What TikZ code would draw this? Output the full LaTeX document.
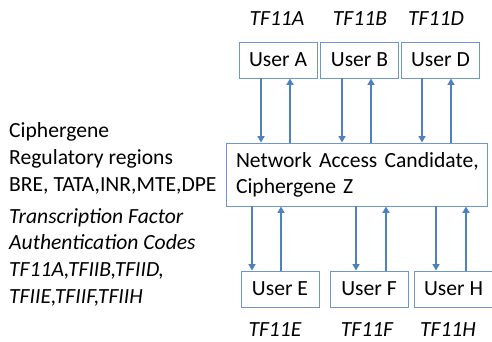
\documentclass[tikz,border=0pt]{standalone}
\usepackage{fontspec}
\setmainfont{Carlito}
\usetikzlibrary{arrows.meta}
\definecolor{arrowblue}{RGB}{79,129,189}
\definecolor{boxblue}{RGB}{110,150,205}
\begin{document}
\begin{tikzpicture}[x=1pt,y=-1pt,
  every node/.style={font=\fontsize{21.6}{26}\selectfont},
  userbox/.style={draw=boxblue,line width=0.9pt,minimum width=78pt,minimum height=36pt,inner sep=0pt},
  tflabel/.style={font=\fontsize{21.6}{26}\selectfont\itshape,inner sep=0pt},
  lefttext/.style={anchor=base west,inner sep=0pt},
  leftital/.style={anchor=base west,inner sep=0pt,font=\fontsize{21.6}{26}\selectfont\itshape},
  arr/.style={draw=arrowblue,line width=2.4pt,-{Triangle[width=7pt,length=6.5pt]}}]
\useasboundingbox (0,0) rectangle (492,342);

% top row of users
\node[userbox] (ua) at (278,60) {User A};
\node[userbox] (ub) at (359.5,60) {User B};
\node[userbox] (ud) at (440.5,60) {User D};
\node[tflabel] (la) at (277,19) {TF11A};
\node[tflabel] (lb) at (360,19) {TF11B};
\node[tflabel] (ld) at (436,19) {TF11D};

% central node
\node[draw=boxblue,line width=0.9pt,minimum width=261pt,minimum height=63pt,
      inner xsep=10pt,inner ysep=0pt,text width=241pt,align=left] (nac) at (356.5,174.5)
  {\mbox{Network Access Candidate,}\\\mbox{Ciphergene Z}};

% bottom row of users
\node[userbox] (ue) at (280,289) {User E};
\node[userbox] (uf) at (369,289) {User F};
\node[userbox] (uh) at (453.5,289) {User H};
\node[tflabel] (le) at (275,330) {TF11E};
\node[tflabel] (lf) at (367,330) {TF11F};
\node[tflabel] (lh) at (448,330) {TF11H};

% left-hand description
\node[lefttext] (reg1) at (9,137) {Ciphergene};
\node[lefttext] (reg2) at (9,164) {Regulatory regions};
\node[lefttext] (reg3) at (9,191) {BRE, TATA,INR,MTE,DPE};
\node[leftital] (tf1) at (9,223) {Transcription Factor};
\node[leftital] (tf2) at (9,249.7) {Authentication Codes};
\node[leftital] (tf3) at (9,276.3) {TF11A,TFIIB,TFIID,};
\node[leftital] (tf4) at (9,303) {TFIIE,TFIIF,TFIIH};

% links between the users and the central node
\foreach \u/\d/\p in {ua/261/290, ub/342/371, ud/422/451}{
  \draw[arr] (\u.south -| \d,0) -- (nac.north -| \d,0);
  \draw[arr] (nac.north -| \p,0) -- (\u.south -| \p,0);
}
\foreach \u/\d/\p in {ue/252/281, uf/356/386, uh/436/466}{
  \draw[arr] (nac.south -| \d,0) -- (\u.north -| \d,0);
  \draw[arr] (\u.north -| \p,0) -- (nac.south -| \p,0);
}
\end{tikzpicture}
\end{document}
